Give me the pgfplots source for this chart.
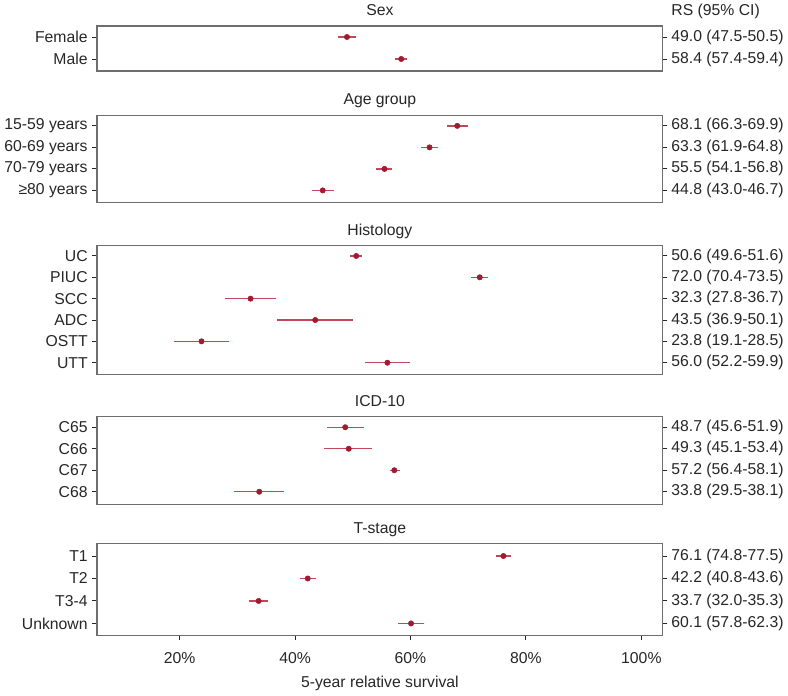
\documentclass[border=0pt]{standalone}
\usepackage{pgfplots}
\usepackage{pgfplotstable}
\pgfplotsset{compat=1.18}
\usepackage{fontspec}
\setmainfont{Liberation Sans}
\definecolor{dotred}{HTML}{A11A2E}
\definecolor{barred}{HTML}{C0485A}
\definecolor{framegray}{HTML}{6E6E6E}
\definecolor{txt}{HTML}{262626}

\pgfplotstableread{
i rs lo hi
1 49.0 47.5 50.5
2 58.4 57.4 59.4
}\sex
\pgfplotstableread{
i rs lo hi
1 68.1 66.3 69.9
2 63.3 61.9 64.8
3 55.5 54.1 56.8
4 44.8 43.0 46.7
}\age
\pgfplotstableread{
i rs lo hi
1 50.6 49.6 51.6
2 72.0 70.4 73.5
3 32.3 27.8 36.7
4 43.5 36.9 50.1
5 23.8 19.1 28.5
6 56.0 52.2 59.9
}\hist
\pgfplotstableread{
i rs lo hi
1 48.7 45.6 51.9
2 49.3 45.1 53.4
3 57.2 56.4 58.1
4 33.8 29.5 38.1
}\icd
\pgfplotstableread{
i rs lo hi
1 76.1 74.8 77.5
2 42.2 40.8 43.6
3 33.7 32.0 35.3
4 60.1 57.8 62.3
}\tstage

\tikzset{
  rl/.style={anchor=west, xshift=3pt, text=txt, font=\fontsize{11.8}{14}\selectfont},
}
\pgfplotsset{
  every axis title shift=0pt,
  panel/.style={
    width=423.75pt, scale only axis,
    xmin=5.7, xmax=103.7,
    y dir=reverse,
    axis line style={framegray, line width=0.9pt},
    tick align=outside,
    ytick pos=both, yticklabel pos=left,
    xtick pos=bottom,
    major tick length=3.5pt,
    tick style={txt, line width=0.7pt},
    font=\fontsize{11.8}{14}\selectfont,
    every tick label/.append style={txt},
    title style={at={(0.5,1)}, anchor=base, yshift=7.6pt, text=txt},
    clip=false,
    anchor=north west,
  },
  fp/.style={only marks, mark=*, mark size=2pt, color=dotred,
    error bars/.cd, x dir=both, x explicit,
    error bar style={barred, line width=1pt}, error mark=none},
}

\begin{document}
\begin{tikzpicture}
% Sex
\begin{axis}[panel, at={(0,-18pt)}, height=33.75pt,
  ymin=0.5, ymax=2.55, ytick={1,2}, yticklabels={Female,Male},
  xtick=\empty, title={Sex}]
\addplot[fp] table[x=rs, y=i, x error plus expr=\thisrow{hi}-\thisrow{rs}, x error minus expr=\thisrow{rs}-\thisrow{lo}] {\sex};
\node[rl] at (axis cs:103.7,1) {49.0 (47.5-50.5)};
\node[rl] at (axis cs:103.7,2) {58.4 (57.4-59.4)};
\node[anchor=base west, xshift=3pt, yshift=7.6pt, text=txt, font=\fontsize{11.8}{14}\selectfont] at (rel axis cs:1,1) {RS (95\% CI)};
\end{axis}
% Age group
\begin{axis}[panel, at={(0,-84.75pt)}, height=65.25pt,
  ymin=0.5, ymax=4.55, ytick={1,2,3,4}, yticklabels={15-59 years,60-69 years,70-79 years,≥80 years},
  xtick=\empty, title={Age group}]
\addplot[fp] table[x=rs, y=i, x error plus expr=\thisrow{hi}-\thisrow{rs}, x error minus expr=\thisrow{rs}-\thisrow{lo}] {\age};
\node[rl] at (axis cs:103.7,1) {68.1 (66.3-69.9)};
\node[rl] at (axis cs:103.7,2) {63.3 (61.9-64.8)};
\node[rl] at (axis cs:103.7,3) {55.5 (54.1-56.8)};
\node[rl] at (axis cs:103.7,4) {44.8 (43.0-46.7)};
\end{axis}
% Histology
\begin{axis}[panel, at={(0,-182.25pt)}, height=96.75pt,
  ymin=0.5, ymax=6.55, ytick={1,...,6}, yticklabels={UC,PIUC,SCC,ADC,OSTT,UTT},
  xtick=\empty, title={Histology}]
\addplot[fp] table[x=rs, y=i, x error plus expr=\thisrow{hi}-\thisrow{rs}, x error minus expr=\thisrow{rs}-\thisrow{lo}] {\hist};
\node[rl] at (axis cs:103.7,1) {50.6 (49.6-51.6)};
\node[rl] at (axis cs:103.7,2) {72.0 (70.4-73.5)};
\node[rl] at (axis cs:103.7,3) {32.3 (27.8-36.7)};
\node[rl] at (axis cs:103.7,4) {43.5 (36.9-50.1)};
\node[rl] at (axis cs:103.7,5) {23.8 (19.1-28.5)};
\node[rl] at (axis cs:103.7,6) {56.0 (52.2-59.9)};
\end{axis}
% ICD-10
\begin{axis}[panel, at={(0,-310.5pt)}, height=66pt,
  ymin=0.5, ymax=4.6, ytick={1,2,3,4}, yticklabels={C65,C66,C67,C68},
  xtick=\empty, title={ICD-10}]
\addplot[fp] table[x=rs, y=i, x error plus expr=\thisrow{hi}-\thisrow{rs}, x error minus expr=\thisrow{rs}-\thisrow{lo}] {\icd};
\node[rl] at (axis cs:103.7,1) {48.7 (45.6-51.9)};
\node[rl] at (axis cs:103.7,2) {49.3 (45.1-53.4)};
\node[rl] at (axis cs:103.7,3) {57.2 (56.4-58.1)};
\node[rl] at (axis cs:103.7,4) {33.8 (29.5-38.1)};
\end{axis}
% T-stage
\begin{axis}[panel, at={(0,-405.75pt)}, height=69pt,
  ymin=0.45, ymax=4.55, ytick={1,2,3,4}, yticklabels={T1,T2,T3-4,Unknown},
  xtick={20,40,60,80,100}, xticklabels={20\%,40\%,60\%,80\%,100\%},
  xticklabel shift=5.5pt,
  xlabel={5-year relative survival}, xlabel style={text=txt, yshift=-2.5pt},
  title={T-stage}]
\addplot[fp] table[x=rs, y=i, x error plus expr=\thisrow{hi}-\thisrow{rs}, x error minus expr=\thisrow{rs}-\thisrow{lo}] {\tstage};
\node[rl] at (axis cs:103.7,1) {76.1 (74.8-77.5)};
\node[rl] at (axis cs:103.7,2) {42.2 (40.8-43.6)};
\node[rl] at (axis cs:103.7,3) {33.7 (32.0-35.3)};
\node[rl] at (axis cs:103.7,4) {60.1 (57.8-62.3)};
\end{axis}
\end{tikzpicture}
\end{document}
